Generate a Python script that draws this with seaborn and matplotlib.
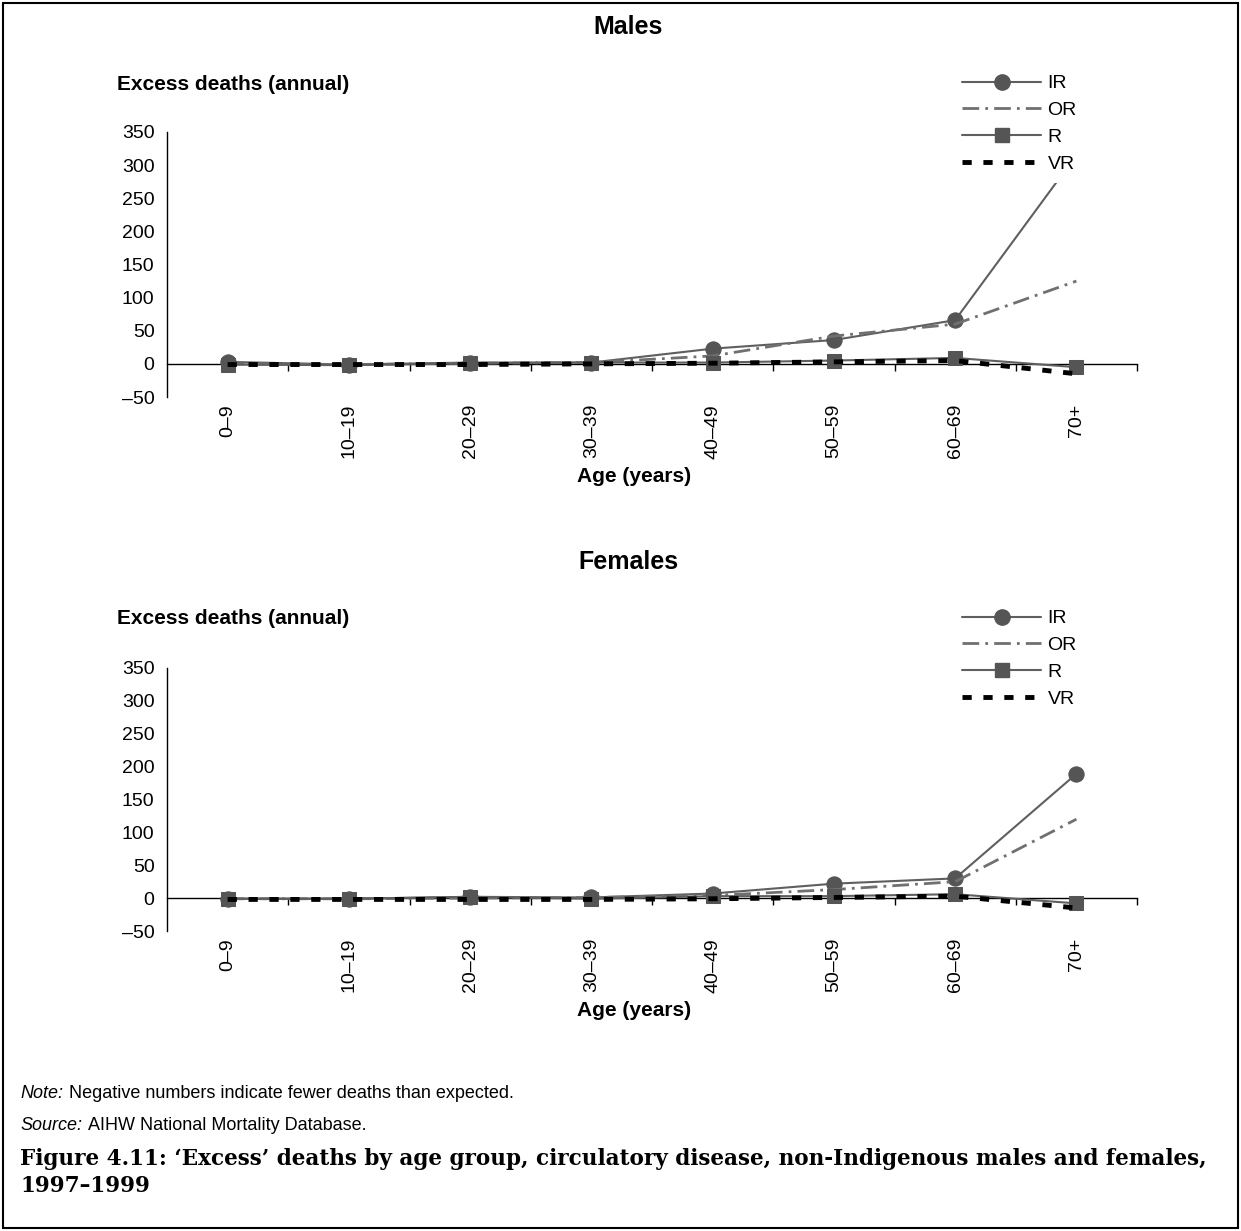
import pandas as pd
import matplotlib.pyplot as plt
import matplotlib.lines as mlines
import matplotlib.patches as mpatches
import matplotlib.text as mtext
import seaborn as sns

# Data
AGE_GROUPS = ['0–9', '10–19', '20–29', '30–39', '40–49', '50–59', '60–69', '70+']
SERIES = ['IR', 'OR', 'R', 'VR']

MALES_IR = [3, -1, 2, 2, 23, 36, 66, 315]
MALES_OR = [0, -1, 1, 2, 12, 42, 60, 125]
MALES_R = [-1, -2, 1, 2, 2, 5, 9, -5]
MALES_VR = [-1, -1, -1, 0, 1, 3, 5, -15]

FEMALES_IR = [-1, -1, 2, 1, 7, 22, 30, 189]
FEMALES_OR = [-1, -1, 0, 1, 4, 13, 25, 120]
FEMALES_R = [-1, -1, 2, -1, 3, 3, 6, -8]
FEMALES_VR = [-2, -2, -2, -2, -1, 1, 3, -15]

Y_TICKS = [-50, 0, 50, 100, 150, 200, 250, 300, 350]

# Configuration
OUTPUT_IMAGE = 'out.png'
FIG_W, FIG_H, DPI = 1241, 1231, 100
SANS = 'Liberation Sans'
SERIF = 'DejaVu Serif'
TICK_SIZE = 14

STYLES = {
    'IR': dict(color='#5f5f5f', lw=1.5, marker='o', ms=11, mfc='#555555', dashes=None),
    'OR': dict(color='#707070', lw=2.0, marker=None, ms=0, mfc=None, dashes=(6, 2.2, 1, 2.2)),
    'R': dict(color='#5f5f5f', lw=1.5, marker='s', ms=10, mfc='#555555', dashes=None),
    'VR': dict(color='#000000', lw=3.5, marker=None, ms=0, mfc=None, dashes=(1.9, 2.4)),
}


def px_x(x):
    return x / FIG_W


def px_y(y):
    return 1 - y / FIG_H


def make_frame(ir, or_, r, vr):
    rows = []
    for name, vals in zip(SERIES, [ir, or_, r, vr]):
        for age, v in zip(AGE_GROUPS, vals):
            rows.append({'age': age, 'series': name, 'value': v})
    return pd.DataFrame(rows)


def draw_panel(fig, df, top_px, bottom_px, title, title_y, label_y, xlabel_y, legend_top):
    ax = fig.add_axes([px_x(167), px_y(bottom_px), px_x(1137) - px_x(167),
                       px_y(top_px) - px_y(bottom_px)])
    for name in SERIES:
        st = STYLES[name]
        sub = df[df['series'] == name]
        kw = dict(color=st['color'], linewidth=st['lw'])
        if st['marker']:
            kw.update(marker=st['marker'], markersize=st['ms'],
                      markerfacecolor=st['mfc'], markeredgecolor=st['mfc'])
        sns.lineplot(data=sub, x='age', y='value', ax=ax, sort=False,
                     legend=False, **kw)
        line = ax.lines[-1]
        if st['dashes']:
            line.set_dashes(st['dashes'])
        line.set_clip_on(False)

    ax.set_xlim(-0.5, len(AGE_GROUPS) - 0.5)
    ax.set_ylim(-50, 350)
    ax.set_yticks(Y_TICKS)
    ax.set_yticklabels(['–50' if t < 0 else str(t) for t in Y_TICKS],
                       fontsize=TICK_SIZE, family=SANS)
    ax.set_xticks(range(len(AGE_GROUPS)))
    ax.set_xticklabels(AGE_GROUPS, rotation=90, fontsize=TICK_SIZE, family=SANS)
    ax.tick_params(axis='x', length=0, pad=5, colors='#000000')
    ax.tick_params(axis='y', length=5, width=1, colors='#000000', pad=4)
    for side in ['top', 'right', 'bottom']:
        ax.spines[side].set_visible(False)
    ax.spines['left'].set_color('#000000')
    ax.spines['left'].set_linewidth(1)
    ax.set_xlabel('')
    ax.set_ylabel('')
    ax.grid(False)

    # zero line with category boundary ticks
    zero_frac = 50 / 400
    sec = ax.secondary_xaxis(zero_frac)
    sec.set_xticks([k - 0.5 for k in range(1, len(AGE_GROUPS) + 1)])
    sec.set_xticklabels([])
    sec.tick_params(length=5, width=1, color='#000000', direction='out')
    sec.spines['bottom'].set_color('#000000')
    sec.spines['bottom'].set_linewidth(1)

    fig.text(px_x(628), px_y(title_y), title, ha='center', va='center',
             fontsize=18, fontweight='bold', family=SANS, color='#000000')
    fig.text(px_x(117), px_y(label_y), 'Excess deaths (annual)', ha='left',
             va='center', fontsize=15, fontweight='bold', family=SANS, color='#000000')
    fig.text(px_x(634), px_y(xlabel_y), 'Age (years)', ha='center', va='center',
             fontsize=15, fontweight='bold', family=SANS, color='#000000')

    handles = []
    for name in SERIES:
        st = STYLES[name]
        h = mlines.Line2D([], [], color=st['color'], linewidth=st['lw'],
                          marker=st['marker'], markersize=st['ms'],
                          markerfacecolor=st['mfc'], markeredgecolor=st['mfc'])
        if st['dashes']:
            h.set_dashes(st['dashes'])
        handles.append(h)
    leg = fig.legend(handles, SERIES, loc='upper left',
                     bbox_to_anchor=(px_x(952), px_y(legend_top)),
                     frameon=True, handlelength=4.1,
                     handletextpad=0.31, labelspacing=0.48, borderpad=0.5,
                     borderaxespad=0, prop={'family': SANS, 'size': TICK_SIZE})
    leg.get_frame().set_edgecolor('none')
    leg.get_frame().set_facecolor('white')
    leg.get_frame().set_alpha(1)
    for t in leg.get_texts():
        t.set_color('#000000')
    return ax


def footnote(fig, y, lead, body):
    head = fig.text(px_x(20), px_y(y), lead, style='italic', fontsize=13,
                    family=SANS, va='bottom', ha='left')
    tail = mtext.Annotation(body, xy=(1, 0), xycoords=head, xytext=(4, 0),
                            textcoords='offset points', va='bottom', ha='left',
                            fontsize=13, family=SANS, color='#000000')
    fig.add_artist(tail)


def main():
    sns.set_theme(style='white')
    plt.rcParams['font.family'] = [SANS, 'DejaVu Sans']
    plt.rcParams['text.color'] = '#000000'

    fig = plt.figure(figsize=(FIG_W / DPI, FIG_H / DPI), dpi=DPI)

    males = make_frame(MALES_IR, MALES_OR, MALES_R, MALES_VR)
    females = make_frame(FEMALES_IR, FEMALES_OR, FEMALES_R, FEMALES_VR)

    draw_panel(fig, males, 132, 397, 'Males', 27, 84, 476, 65)
    draw_panel(fig, females, 668, 931, 'Females', 562, 618, 1011, 600)

    # Notes
    footnote(fig, 1102, 'Note:', 'Negative numbers indicate fewer deaths than expected.')
    footnote(fig, 1134, 'Source:', 'AIHW National Mortality Database.')
    fig.text(px_x(20), px_y(1148),
             'Figure 4.11: \u2018Excess\u2019 deaths by age group, circulatory disease, '
             'non-Indigenous males and females,\n1997\u20131999',
             fontsize=15.5, fontweight='bold', family=SERIF, va='top', ha='left',
             linespacing=1.3)

    # Outer border
    fig.patches.append(mpatches.Rectangle((px_x(3), px_y(1228)), px_x(1235), 1 - px_y(1225),
                                          transform=fig.transFigure, fill=False,
                                          edgecolor='#000000', linewidth=1.5))

    fig.savefig(OUTPUT_IMAGE, dpi=DPI)
    plt.close(fig)


if __name__ == '__main__':
    main()
